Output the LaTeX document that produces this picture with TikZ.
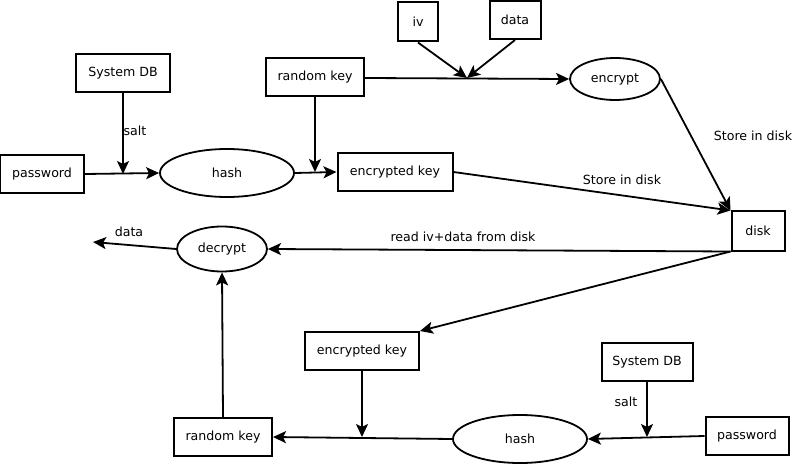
\documentclass[tikz,border=0pt]{standalone}
\usepackage{fontspec}
\setmainfont{DejaVu Sans}
\usetikzlibrary{shapes.geometric,arrows.meta}
\begin{document}
\begin{tikzpicture}[x=1pt,y=-1pt,
  font=\fontsize{12.6}{14}\selectfont,
  box/.style={draw,line width=2pt,rectangle,inner sep=0pt},
  oval/.style={draw,line width=1.8pt,ellipse,inner sep=0pt},
  lbl/.style={inner sep=0pt},
  arr/.style={line width=1.8pt,-{Stealth[length=13pt,width=12pt,inset=3pt]}},
  ln/.style={line width=1.8pt}]
\useasboundingbox (0,0) rectangle (795,465);
% top half
\node[box,minimum width=94pt,minimum height=38pt] (sdb1) at (123,73) {System DB};
\node[box,minimum width=84pt,minimum height=38pt] (pw1) at (42,174) {password};
\node[oval,minimum width=134pt,minimum height=48pt] (hash1) at (227,173) {hash};
\node[box,minimum width=98pt,minimum height=38pt] (rk1) at (315,77) {random key};
\node[box,minimum width=115pt,minimum height=38pt] (ek1) at (395,172) {encrypted key};
\node[box,minimum width=40pt,minimum height=39pt] (iv) at (418,22) {iv};
\node[box,minimum width=51pt,minimum height=38pt] (data) at (515,20) {data};
\node[oval,minimum width=90pt,minimum height=42pt] (enc) at (615,79) {encrypt};
\node[box,minimum width=53pt,minimum height=39pt] (disk) at (758,231) {disk};
\node[oval,minimum width=90pt,minimum height=45pt] (dec) at (222,249) {decrypt};
% bottom half
\node[box,minimum width=114pt,minimum height=38pt] (ek2) at (362,351) {encrypted key};
\node[box,minimum width=98pt,minimum height=38pt] (rk2) at (223,437) {random key};
\node[oval,minimum width=134pt,minimum height=48pt] (hash2) at (520,439) {hash};
\node[box,minimum width=91pt,minimum height=38pt] (sdb2) at (647,362) {System DB};
\node[box,minimum width=83pt,minimum height=38pt] (pw2) at (747,436) {password};
% labels
\node[lbl] (salt1) at (135,131) {salt};
\node[lbl] (salt2) at (626,402) {salt};
\node[lbl] (store1) at (753,136) {Store in disk};
\node[lbl] (store2) at (622,180) {Store in disk};
\node[lbl] (read) at (463,237) {read iv+data from disk};
\node[lbl] (dlbl) at (129,232) {data};
% coordinates
\coordinate (j1) at (123,174);
\coordinate (j2) at (315,172);
\coordinate (j3) at (467,78);
\coordinate (j4) at (647,437);
\coordinate (j5) at (362,437);
\coordinate (dout) at (93,242);
% connectors top
\draw[arr] (pw1.east) -- (hash1.west);
\draw[arr] (sdb1.south) -- (j1);
\draw[arr] (hash1.east) -- (ek1.west);
\draw[arr] (rk1.south) -- (j2);
\draw[arr] (rk1.east |- j3) -- (enc.west);
\draw[arr] (iv.south) -- (j3);
\draw[arr] (data.south) -- (j3);
\draw[arr] (enc.east) -- (disk.north west);
\draw[arr] (ek1.east) -- (disk.north west);
\draw[arr] (disk.south west) -- (dec.east);
\draw[arr] (dec.west) -- (dout);
\draw[arr] (disk.south west) -- (ek2.north east);
% connectors bottom
\draw[arr] (pw2.west) -- (hash2.east);
\draw[arr] (sdb2.south) -- (j4);
\draw[arr] (hash2.west) -- (rk2.east);
\draw[arr] (ek2.south) -- (j5);
\draw[arr] (rk2.north) -- (dec.south);
\end{tikzpicture}
\end{document}
